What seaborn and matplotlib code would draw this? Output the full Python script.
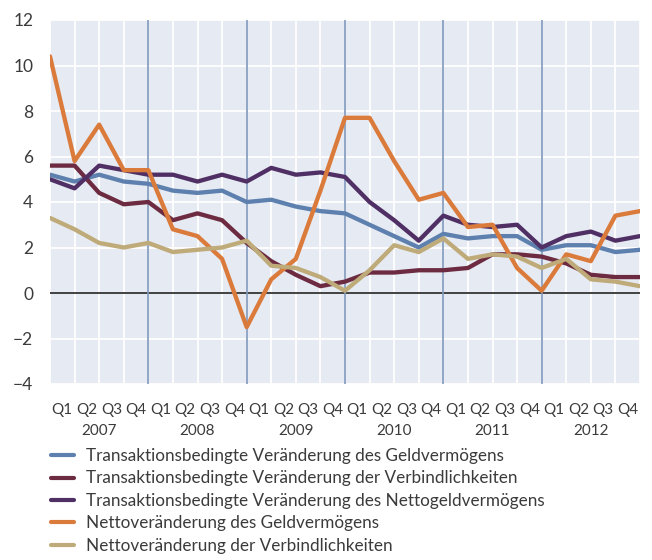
import pandas as pd
import seaborn as sns
import matplotlib.pyplot as plt
from matplotlib.transforms import blended_transform_factory

# Quartalswerte, Ende 2006 bis Ende 2012 (25 Punkte)
geldverm_trans = [5.2, 4.9, 5.2, 4.9, 4.8, 4.5, 4.4, 4.5, 4.0, 4.1, 3.8, 3.6, 3.5,
                  3.0, 2.5, 2.0, 2.6, 2.4, 2.5, 2.5, 1.9, 2.1, 2.1, 1.8, 1.9]
verbind_trans = [5.6, 5.6, 4.4, 3.9, 4.0, 3.2, 3.5, 3.2, 2.2, 1.4, 0.8, 0.3, 0.5,
                 0.9, 0.9, 1.0, 1.0, 1.1, 1.7, 1.7, 1.6, 1.3, 0.8, 0.7, 0.7]
netto_trans = [5.0, 4.6, 5.6, 5.4, 5.2, 5.2, 4.9, 5.2, 4.9, 5.5, 5.2, 5.3, 5.1,
               4.0, 3.2, 2.3, 3.4, 3.0, 2.9, 3.0, 2.0, 2.5, 2.7, 2.3, 2.5]
geldverm_netto = [10.4, 5.8, 7.4, 5.4, 5.4, 2.8, 2.5, 1.5, -1.5, 0.6, 1.5, 4.5, 7.7,
                  7.7, 5.8, 4.1, 4.4, 2.9, 3.0, 1.1, 0.1, 1.7, 1.4, 3.4, 3.6]
verbind_netto = [3.3, 2.8, 2.2, 2.0, 2.2, 1.8, 1.9, 2.0, 2.3, 1.2, 1.1, 0.7, 0.1,
                 1.0, 2.1, 1.8, 2.4, 1.5, 1.7, 1.6, 1.1, 1.5, 0.6, 0.5, 0.3]

series_names = [
    "Transaktionsbedingte Veränderung des Geldvermögens",
    "Transaktionsbedingte Veränderung der Verbindlichkeiten",
    "Transaktionsbedingte Veränderung des Nettogeldvermögens",
    "Nettoveränderung des Geldvermögens",
    "Nettoveränderung der Verbindlichkeiten",
]
colors = ["#5E80AE", "#6C2B40", "#4F2F64", "#DA7A3B", "#BFAB79"]
years = ["2007", "2008", "2009", "2010", "2011", "2012"]
quarters = ["Q1", "Q2", "Q3", "Q4"]

all_values = [geldverm_trans, verbind_trans, netto_trans, geldverm_netto, verbind_netto]
rows = []
for name, vals in zip(series_names, all_values):
    for i, v in enumerate(vals):
        rows.append({"t": i, "wert": v, "reihe": name})
df = pd.DataFrame(rows)

sns.set_theme(style="darkgrid", rc={
    "axes.facecolor": "#E6EAF2",
    "grid.color": "white",
    "grid.linewidth": 1.3,
})
plt.rcParams["font.family"] = ["Lato", "DejaVu Sans"]
textcol = "#3b3b3b"

fig = plt.figure(figsize=(6.52, 5.6), dpi=100)
ax = fig.add_axes([50 / 652, 1 - 384 / 560, 590 / 652, 364 / 560])

sns.lineplot(data=df, x="t", y="wert", hue="reihe", palette=colors,
             hue_order=series_names, linewidth=3.1, ax=ax, legend=False)

ax.set_xlim(0, 24)
ax.set_ylim(-4, 12)
ax.set_xticks(range(25))
ax.set_xticklabels([])
ax.set_yticks(range(-4, 13, 2))
ax.tick_params(axis="y", labelsize=12.5, colors=textcol, pad=12, length=0)
ax.tick_params(axis="x", length=0)
ax.set_xlabel("")
ax.set_ylabel("")
for s in ax.spines.values():
    s.set_visible(False)

ax.axhline(0, color="#222222", lw=1.2, zorder=1.5)
for k in range(4, 24, 4):
    ax.axvline(k, color="#7F97BC", lw=1.2, zorder=1.5)

# Quartals- und Jahresbeschriftung
trans = blended_transform_factory(ax.transData, ax.transAxes)
for j, yr in enumerate(years):
    for q, ql in enumerate(quarters):
        k = 4 * j + q
        ax.text(k + 0.5, -0.072, ql, transform=trans, ha="center", va="center",
                fontsize=11, color=textcol)
    ax.text(4 * j + 2, -0.13, yr, transform=trans, ha="center",
            va="center", fontsize=11, color=textcol)

handles = [plt.Line2D([], [], color=c, lw=3) for c in colors]
fig.legend(handles, series_names, loc="upper left", bbox_to_anchor=(51 / 652, 1 - 448 / 560),
           frameon=False, borderpad=0, borderaxespad=0, handlelength=1.35,
           handletextpad=0.7, labelspacing=0.38, fontsize=12.3, labelcolor=textcol)

fig.savefig("out.png", dpi=100)
